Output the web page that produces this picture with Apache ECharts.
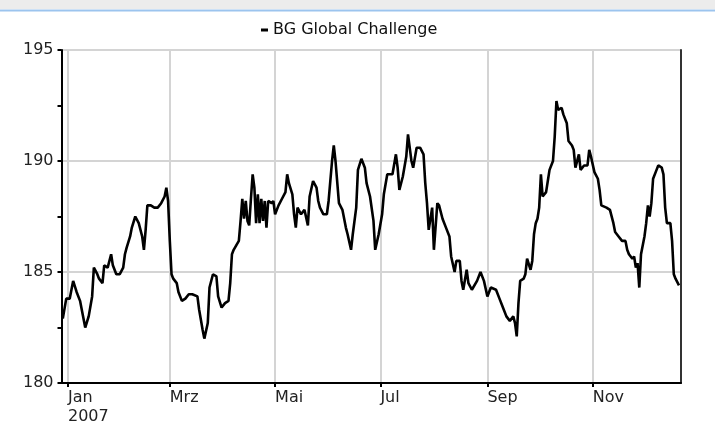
<!DOCTYPE html>
<html>
<head>
<meta charset="utf-8">
<script src="https://cdn.jsdelivr.net/npm/echarts@6/dist/echarts.min.js"></script>
<style>
html,body{margin:0;padding:0;background:#fff;}
#chart{width:715px;height:423px;}
</style>
</head>
<body>
<div id="chart"></div>
<script>
const seriesName = 'BG Global Challenge';
const monthNames = ['Jan','Feb','Mrz','Apr','Mai','Jun','Jul','Aug','Sep','Okt','Nov','Dez'];
const yTicks = [180, 185, 190, 195];

const dates = [
'2006-12-29','2006-12-31','2007-01-02','2007-01-04','2007-01-06','2007-01-08','2007-01-09','2007-01-11','2007-01-13','2007-01-15',
'2007-01-16','2007-01-18','2007-01-19','2007-01-21','2007-01-22','2007-01-24','2007-01-26','2007-01-27','2007-01-29','2007-01-31',
'2007-02-02','2007-02-03','2007-02-04','2007-02-06','2007-02-07','2007-02-09','2007-02-11','2007-02-13','2007-02-14','2007-02-15',
'2007-02-16','2007-02-18','2007-02-20','2007-02-22','2007-02-24','2007-02-26','2007-02-27','2007-02-28','2007-03-01','2007-03-02',
'2007-03-03','2007-03-05','2007-03-06','2007-03-08','2007-03-10','2007-03-12','2007-03-14','2007-03-17','2007-03-18','2007-03-20',
'2007-03-21','2007-03-23','2007-03-24','2007-03-26','2007-03-28','2007-03-29','2007-03-31','2007-04-02','2007-04-04','2007-04-05',
'2007-04-06','2007-04-07','2007-04-10','2007-04-11','2007-04-12','2007-04-13','2007-04-14','2007-04-15','2007-04-16','2007-04-17',
'2007-04-18','2007-04-19','2007-04-20','2007-04-21','2007-04-22','2007-04-23','2007-04-24','2007-04-25','2007-04-26','2007-04-27',
'2007-04-29','2007-04-30','2007-05-01','2007-05-03','2007-05-05','2007-05-07','2007-05-08','2007-05-09','2007-05-11','2007-05-12',
'2007-05-13','2007-05-14','2007-05-16','2007-05-18','2007-05-20','2007-05-21','2007-05-23','2007-05-25','2007-05-26','2007-05-27',
'2007-05-29','2007-05-31','2007-06-01','2007-06-02','2007-06-03','2007-06-04','2007-06-05','2007-06-07','2007-06-09','2007-06-11',
'2007-06-12','2007-06-14','2007-06-15','2007-06-17','2007-06-18','2007-06-20','2007-06-22','2007-06-23','2007-06-25','2007-06-27',
'2007-06-28','2007-06-30','2007-07-02','2007-07-03','2007-07-05','2007-07-08','2007-07-10','2007-07-11','2007-07-12','2007-07-14',
'2007-07-16','2007-07-17','2007-07-19','2007-07-20','2007-07-22','2007-07-24','2007-07-26','2007-07-27','2007-07-28','2007-07-29',
'2007-07-31','2007-08-01','2007-08-03','2007-08-04','2007-08-06','2007-08-08','2007-08-10','2007-08-11','2007-08-13','2007-08-14',
'2007-08-16','2007-08-17','2007-08-18','2007-08-20','2007-08-21','2007-08-23','2007-08-24','2007-08-26','2007-08-28','2007-08-30',
'2007-09-01','2007-09-03','2007-09-04','2007-09-06','2007-09-08','2007-09-10','2007-09-12','2007-09-14','2007-09-16','2007-09-17',
'2007-09-18','2007-09-19','2007-09-20','2007-09-22','2007-09-23','2007-09-24','2007-09-26','2007-09-27','2007-09-28','2007-09-29',
'2007-09-30','2007-10-01','2007-10-02','2007-10-03','2007-10-05','2007-10-06','2007-10-07','2007-10-09','2007-10-10','2007-10-11',
'2007-10-12','2007-10-14','2007-10-15','2007-10-17','2007-10-18','2007-10-20','2007-10-21','2007-10-22','2007-10-24','2007-10-25',
'2007-10-27','2007-10-29','2007-10-30','2007-10-31','2007-11-02','2007-11-04','2007-11-05','2007-11-06','2007-11-07','2007-11-09',
'2007-11-11','2007-11-13','2007-11-14','2007-11-16','2007-11-18','2007-11-20','2007-11-21','2007-11-22','2007-11-24','2007-11-25',
'2007-11-26','2007-11-27','2007-11-28','2007-11-29','2007-12-01','2007-12-02','2007-12-03','2007-12-04','2007-12-05','2007-12-06',
'2007-12-08','2007-12-09','2007-12-11','2007-12-12','2007-12-13','2007-12-14','2007-12-16','2007-12-17','2007-12-18','2007-12-19',
'2007-12-21'
];

const values = [
182.9,183.8,183.8,184.6,184.1,183.7,183.3,182.5,183.0,183.9,
185.2,184.9,184.7,184.5,185.3,185.2,185.8,185.3,184.9,184.9,
185.2,185.8,186.1,186.6,187.0,187.5,187.2,186.6,186.0,186.9,
188.0,188.0,187.9,187.9,188.1,188.4,188.8,188.2,186.4,184.9,
184.7,184.5,184.1,183.7,183.8,184.0,184.0,183.9,183.3,182.4,
182.0,182.7,184.3,184.9,184.8,183.9,183.4,183.6,183.7,184.5,
185.8,186.0,186.4,187.3,188.3,187.4,188.2,187.3,187.1,188.3,
189.4,188.8,187.2,188.5,187.2,188.3,187.3,188.2,187.0,188.2,
188.1,188.2,187.6,188.0,188.3,188.6,189.4,189.0,188.5,187.6,
187.0,187.9,187.6,187.8,187.1,188.4,189.1,188.8,188.2,187.9,
187.6,187.6,188.2,189.1,190.0,190.7,190.0,188.1,187.8,187.0,
186.7,186.0,186.7,187.9,189.6,190.1,189.7,189.0,188.4,187.3,
186.0,186.7,187.6,188.5,189.4,189.4,190.3,189.7,188.7,189.3,
190.2,191.2,190.0,189.7,190.6,190.6,190.3,189.0,188.1,186.9,
187.9,186.0,188.1,188.0,187.4,187.0,186.6,185.7,185.0,185.5,
185.5,184.6,184.2,185.1,184.5,184.2,184.2,184.6,185.0,184.6,
183.9,184.3,184.3,184.2,183.8,183.4,183.0,182.8,183.0,182.7,
182.1,183.6,184.6,184.7,184.9,185.6,185.1,185.5,186.7,187.2,
187.4,187.9,189.4,188.4,188.6,189.1,189.6,190.0,191.1,192.7,
192.3,192.4,192.1,191.7,190.9,190.7,190.5,189.7,190.3,189.6,
189.8,189.8,190.5,190.2,189.5,189.2,188.7,188.0,188.0,187.9,
187.8,187.2,186.8,186.6,186.4,186.4,186.0,185.8,185.6,185.7,
185.2,185.4,184.3,185.8,186.6,187.2,188.0,187.5,188.1,189.2,
189.6,189.8,189.7,189.4,187.9,187.2,187.2,186.4,184.9,184.7,
184.4
];

const xMin = new Date('2006-12-28T06:00:00').getTime();
const xMax = new Date('2007-12-22T04:00:00').getTime();

const data = dates.map((d, i) => [d, values[i]]);
const FONT = 'DejaVu Sans';
const FS = 16;

const chart = echarts.init(document.getElementById('chart'), null, {renderer: 'canvas'});
chart.setOption({
  animation: false,
  backgroundColor: '#ffffff',
  graphic: [
    {type: 'rect', left: 0, top: 0, shape: {x: 0, y: 0, width: 715, height: 9}, style: {fill: '#ececec'}, z: 100},
    {type: 'line', shape: {x1: 0, y1: 10.5, x2: 715, y2: 10.5}, style: {stroke: '#9cc4ee', lineWidth: 2}, z: 100}
  ],
  legend: {
    show: true,
    left: 256,
    top: 17,
    icon: 'rect',
    itemWidth: 7,
    itemHeight: 3,
    itemGap: 6,
    textStyle: {fontFamily: FONT, fontSize: 16, color: '#111'},
    data: [seriesName]
  },
  grid: {left: 61.5, right: 34, top: 50, bottom: 40, containLabel: false, outerBoundsMode: 'none'},
  xAxis: {
    type: 'time',
    min: xMin,
    max: xMax,
    splitNumber: 5,
    axisLine: {show: true, lineStyle: {color: '#000', width: 2}},
    axisTick: {show: true, length: 4, lineStyle: {color: '#000', width: 2}},
    axisLabel: {
      show: true,
      align: 'left',
      margin: 5,
      lineHeight: 19,
      fontFamily: FONT,
      fontSize: FS,
      color: '#222',
      formatter: function (val) {
        const d = new Date(val);
        if (d.getDate() !== 1 || d.getHours() !== 0) return '';
        const m = d.getMonth();
        return m === 0 ? monthNames[m] + '\n' + d.getFullYear() : monthNames[m];
      }
    },
    splitLine: {show: true, lineStyle: {color: '#d4d4d4', width: 2}}
  },
  yAxis: [
    {
      type: 'value',
      min: 180,
      max: 195,
      interval: 5,
      position: 'left',
      axisLine: {show: true, lineStyle: {color: '#000', width: 2}},
      axisTick: {show: true, length: 4, lineStyle: {color: '#000', width: 2}},
      minorTick: {show: true, splitNumber: 2, length: 4, lineStyle: {color: '#000', width: 2}},
      axisLabel: {
        margin: 8,
        fontFamily: FONT,
        fontSize: FS,
        color: '#222',
        formatter: function (v) { return yTicks.indexOf(v) >= 0 ? String(v) : ''; }
      },
      splitLine: {show: true, lineStyle: {color: '#d4d4d4', width: 2}}
    },
    {
      type: 'value',
      min: 180,
      max: 195,
      interval: 5,
      position: 'right',
      axisLine: {show: true, lineStyle: {color: '#333', width: 2}},
      axisTick: {show: false},
      axisLabel: {show: false},
      splitLine: {show: false}
    }
  ],
  series: [{
    name: seriesName,
    type: 'line',
    data: data,
    yAxisIndex: 0,
    showSymbol: false,
    symbol: 'none',
    itemStyle: {color: '#000'},
    lineStyle: {color: '#000', width: 2.6},
    z: 5
  }]
});
</script>
</body>
</html>
